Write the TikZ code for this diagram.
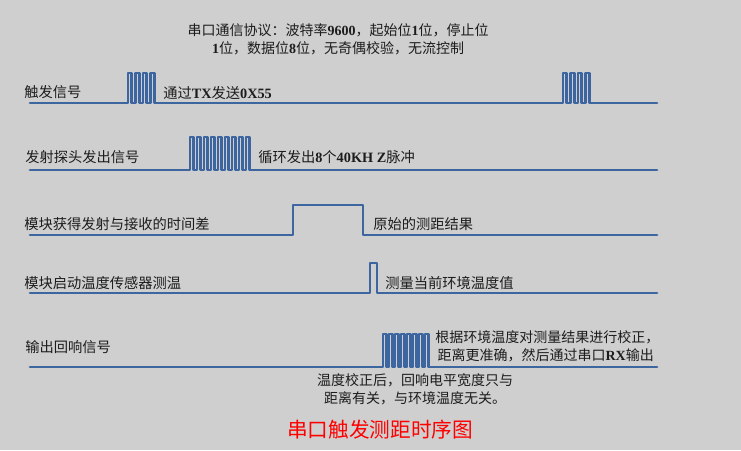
\documentclass[tikz,border=0pt]{standalone}
\usepackage{fontspec}
\setmainfont{Liberation Serif}
\newfontfamily\cjk{Noto Sans CJK SC}
\usetikzlibrary{positioning}
\definecolor{bggray}{RGB}{207,207,207}
\definecolor{waveblue}{RGB}{61,101,160}
\definecolor{inkgray}{RGB}{28,28,28}
\newcommand{\lat}[1]{{\rmfamily\bfseries #1}}
\tikzset{
  wave/.style  = {draw=waveblue, line width=2.2pt, line join=round, line cap=round},
  lbl/.style   = {anchor=west, inner sep=0pt, text=inkgray,
                  font=\cjk\fontsize{10.7}{12}\selectfont},
  note/.style  = {inner sep=0pt, text=inkgray, align=center,
                  font=\cjk\fontsize{10.5}{13.5}\selectfont},
  ttl/.style   = {inner sep=0pt, text=red,
                  font=\cjk\fontsize{15.5}{18}\selectfont},
}

\begin{document}
\begin{tikzpicture}[x=0.75pt, y=-0.75pt]

\fill[bggray] (0,0) rectangle (741,450);

%% Protocol note
\node[note] (proto) at (338,39)
  {串口通信协议：波特率\lat{9600}，起始位\lat{1}位，停止位\\
   \lat{1}位，数据位\lat{8}位，无奇偶校验，无流控制};

%% Row 1: trigger
\node[lbl] (trig) at (24,92) {触发信号};
\node[lbl] (trig_tx) at (163,93) {通过\lat{TX}发送\lat{0X55}};
\draw[wave] (30,103) -- (128,103)
  foreach \i in {1,...,4} { -- ++(0,-30) -- ++(3.9,0) -- ++(0,30) -- ++(3.6,0) }
  -- (563,103)
  foreach \i in {1,...,4} { -- ++(0,-30) -- ++(3.9,0) -- ++(0,30) -- ++(3.6,0) }
  -- (657,103);

%% Row 2: transmitter burst
\node[lbl] (emit) at (25,157) {发射探头发出信号};
\node[lbl] (emit_txt) at (258,157) {循环发出\lat{8}个\lat{40KH Z}脉冲};
\draw[wave] (30,170) -- (190,170)
  foreach \i in {1,...,9} { -- ++(0,-33) -- ++(3.6,0) -- ++(0,33) -- ++(3.4,0) }
  -- (657,170);

%% Row 3: time difference
\node[lbl] (tdiff) at (24,224) {模块获得发射与接收的时间差};
\node[lbl] (tdiff_txt) at (373,224) {原始的测距结果};
\draw[wave] (30,235) -- (293,235) -- (293,205) -- (363,205) -- (363,235)
  -- (657,235);

%% Row 4: temperature measurement
\node[lbl] (temp) at (24,283) {模块启动温度传感器测温};
\node[lbl] (temp_txt) at (385,283) {测量当前环境温度值};
\draw[wave] (30,293) -- (370,293) -- (370,263) -- (377,263) -- (377,293)
  -- (657,293);

%% Row 5: echo output
\node[lbl, align=left, font=\cjk\fontsize{10.5}{13.5}\selectfont] (echo_txt) at (435,346)
  {根据环境温度对测量结果进行校正，\\
   \,距离更准确，然后通过串口\lat{RX}输出};
\node[lbl] (echo) at (25,347) {输出回响信号};
\draw[wave] (30,367) -- (383,367)
  foreach \i in {1,...,8} { -- ++(0,-33) -- ++(3.1,0) -- ++(0,33) -- ++(2.9,0) }
  -- (657,367);
\node[note] (echo_note) at (415,389)
  {温度校正后，回响电平宽度只与\\
   距离有关，与环境温度无关。};

%% Title
\node[ttl] (title) at (380,430) {串口触发测距时序图};

\end{tikzpicture}
\end{document}
